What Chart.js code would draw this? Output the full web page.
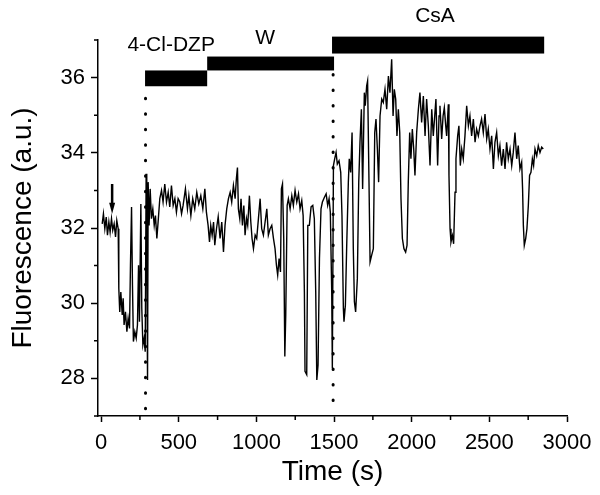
<!DOCTYPE html>
<html>
<head>
<meta charset="utf-8">
<script src="https://cdn.jsdelivr.net/npm/chart.js@4.4.0/dist/chart.umd.min.js"></script>
<style>
  html, body { margin: 0; padding: 0; background: #fff; }
</style>
</head>
<body>
<canvas id="trace" width="600" height="495"></canvas>
<script>
// fluorescence trace (time in s)
const times = [
  7, 15, 24, 33, 41, 50, 58, 67, 75, 84,
  93, 101, 110, 114, 120, 127, 136, 142, 148, 157,
  166, 174, 183, 189, 196, 202, 208, 217, 226, 234,
  241, 247, 256, 262, 269, 277, 284, 290, 294, 299,
  303, 309, 316, 324, 333, 342, 350, 359, 367, 378,
  389, 399, 410, 421, 432, 442, 453, 464, 475, 485,
  496, 507, 518, 528, 543, 556, 565, 578, 590, 603,
  616, 629, 642, 655, 668, 678, 689, 698, 706, 715,
  724, 732, 743, 754, 766, 777, 788, 798, 809, 820,
  831, 841, 852, 863, 871, 878, 884, 893, 901, 910,
  919, 927, 936, 944, 955, 964, 972, 981, 992, 1002,
  1013, 1024, 1034, 1045, 1056, 1067, 1077, 1088, 1099, 1110,
  1120, 1129, 1137, 1146, 1155, 1161, 1168, 1176, 1183, 1189,
  1198, 1206, 1217, 1228, 1238, 1249, 1260, 1271, 1281, 1292,
  1301, 1309, 1313, 1324, 1331, 1341, 1352, 1363, 1373, 1382,
  1389, 1397, 1406, 1416, 1425, 1438, 1449, 1459, 1468, 1476,
  1485, 1489, 1496, 1504, 1513, 1521, 1532, 1543, 1551, 1560,
  1564, 1573, 1581, 1592, 1598, 1607, 1616, 1624, 1631, 1639,
  1650, 1659, 1667, 1676, 1684, 1695, 1701, 1710, 1716, 1725,
  1732, 1742, 1753, 1762, 1770, 1779, 1787, 1796, 1807, 1817,
  1828, 1839, 1850, 1860, 1871, 1880, 1888, 1897, 1905, 1914,
  1923, 1931, 1940, 1950, 1961, 1970, 1978, 1987, 1995, 2004,
  2013, 2021, 2032, 2043, 2053, 2064, 2075, 2086, 2096, 2107,
  2118, 2129, 2139, 2156, 2167, 2176, 2182, 2193, 2202, 2210,
  2219, 2225, 2236, 2240, 2247, 2253, 2262, 2270, 2279, 2285,
  2296, 2304, 2313, 2322, 2332, 2343, 2354, 2365, 2375, 2386,
  2397, 2408, 2418, 2429, 2440, 2450, 2461, 2472, 2483, 2493,
  2504, 2515, 2526, 2536, 2547, 2558, 2568, 2579, 2590, 2601,
  2611, 2622, 2633, 2644, 2654, 2665, 2676, 2686, 2697, 2708,
  2714, 2719, 2725, 2734, 2742, 2751, 2759, 2768, 2777, 2785,
  2794, 2805, 2815, 2826, 2837, 2847
];
const fluorescence = [
  32.11, 32.38, 31.98, 32.29, 31.81, 32.16, 31.89, 32.25, 31.94, 32.11,
  31.76, 32.20, 31.98, 30.39, 29.77, 30.30, 29.69, 30.13, 29.42, 29.77,
  29.24, 29.60, 29.33, 31.01, 32.56, 30.48, 28.98, 29.24, 29.07, 29.42,
  31.01, 29.51, 32.64, 29.86, 28.89, 29.07, 28.71, 33.44, 31.63, 27.96,
  33.22, 32.07, 33.04, 32.25, 32.51, 32.07, 32.33, 31.72, 32.16, 32.78,
  33.00, 32.69, 33.17, 32.69, 32.95, 32.56, 33.13, 32.60, 32.78, 32.42,
  32.78, 32.69, 32.38, 32.60, 33.04, 32.51, 32.86, 32.33, 32.78, 32.51,
  32.95, 32.64, 32.86, 32.51, 33.04, 32.42, 32.07, 31.63, 32.07, 31.81,
  32.16, 31.54, 31.98, 32.30, 31.72, 32.16, 31.36, 32.07, 32.51, 32.78,
  32.95, 32.69, 33.13, 32.78, 33.31, 33.61, 32.51, 32.25, 32.78, 32.07,
  32.60, 31.81, 32.25, 32.07, 32.86, 32.16, 31.72, 31.45, 31.81, 31.72,
  32.25, 32.78, 31.98, 31.81, 32.16, 32.51, 31.81, 31.98, 32.07, 31.72,
  31.45, 31.01, 30.75, 31.19, 30.83, 33.04, 33.17, 31.72, 28.58, 29.69,
  32.60, 32.78, 32.51, 32.86, 32.60, 33.00, 32.69, 32.91, 32.51, 32.73,
  32.33, 30.30, 28.19, 28.10, 32.07, 32.07, 32.56, 32.60, 32.25, 30.30,
  27.96, 28.36, 31.19, 32.51, 32.69, 32.82, 32.91, 32.60, 32.78, 32.42,
  30.30, 28.27, 33.66, 33.84, 34.01, 33.70, 33.79, 33.48, 32.34, 29.86,
  29.51, 29.95, 31.45, 33.22, 33.84, 33.48, 34.54, 31.45, 30.04, 29.77,
  30.66, 33.22, 34.28, 35.16, 33.04, 35.60, 35.25, 35.78, 35.91, 33.22,
  31.10, 31.27, 31.45, 34.54, 34.90, 34.10, 33.22, 34.98, 35.43, 35.34,
  35.69, 35.16, 36.04, 35.60, 36.49, 34.98, 35.69, 35.43, 34.45, 35.16,
  34.54, 32.78, 31.72, 31.45, 31.36, 31.54, 33.22, 34.54, 33.84, 34.63,
  34.10, 33.40, 34.54, 35.16, 35.60, 34.81, 35.51, 34.45, 35.43, 34.72,
  33.66, 35.16, 34.45, 35.43, 33.66, 34.98, 35.25, 34.37, 34.98, 35.20,
  34.72, 34.45, 35.29, 33.40, 31.98, 31.63, 31.80, 31.58, 32.95, 33.84,
  34.45, 34.72, 33.66, 34.10, 33.84, 34.45, 35.25, 34.72, 34.98, 34.45,
  34.90, 34.28, 34.63, 34.45, 34.72, 34.90, 34.54, 35.03, 34.37, 34.63,
  34.10, 34.45, 33.57, 34.28, 34.54, 33.92, 34.19, 33.66, 34.10, 33.57,
  34.28, 33.84, 34.10, 33.66, 34.01, 34.54, 33.84, 34.19, 33.57, 33.75,
  33.04, 32.07, 31.54, 31.72, 31.98, 32.60, 33.40, 33.48, 33.84, 33.66,
  34.10, 33.92, 34.19, 34.01, 34.15, 34.10
];

// axis ticks
const xMajorTicks = [0, 500, 1000, 1500, 2000, 2500, 3000];
const xMinorTicks = [250, 750, 1250, 1750, 2250, 2750];
const yMajorTicks = [28, 30, 32, 34, 36];
const yMinorTicks = [27, 29, 31, 33, 35, 37];

// treatment bars (start/end time, bar bottom/top in a.u.) and their labels
const treatments = ['4-Cl-DZP', 'W', 'CsA'];
const barStart = [283, 683, 1487];
const barEnd = [683, 1500, 2853];
const barLow = [35.77, 36.19, 36.64];
const barHigh = [36.19, 36.56, 37.09];
const labelTime = [451, 1056, 2150];
const labelLevel = [36.86, 37.05, 37.64];

// dotted markers and the arrow
const markerTime = [286, 1494];
const markerTop = [35.45, 36.08];
const markerBottom = [27.13, 27.2];
const arrowTime = 71;
const arrowTop = 33.17;
const arrowTip = 32.38;

const FONT = '"Liberation Sans", Arial, sans-serif';

const extras = {
  id: 'extras',
  afterDatasetsDraw(chart) {
    const { ctx, scales: { x, y } } = chart;
    ctx.save();
    ctx.strokeStyle = '#000';
    ctx.fillStyle = '#000';

    // minor ticks
    ctx.lineWidth = 1.5;
    ctx.beginPath();
    xMinorTicks.forEach(v => {
      const px = x.getPixelForValue(v);
      ctx.moveTo(px, y.bottom);
      ctx.lineTo(px, y.bottom + 4);
    });
    yMinorTicks.forEach(v => {
      const py = y.getPixelForValue(v);
      ctx.moveTo(x.left, py);
      ctx.lineTo(x.left - 4, py);
    });
    ctx.stroke();

    // bars + labels
    ctx.font = '21px ' + FONT;
    ctx.textAlign = 'center';
    ctx.textBaseline = 'middle';
    treatments.forEach((name, i) => {
      const x0 = x.getPixelForValue(barStart[i]);
      const x1 = x.getPixelForValue(barEnd[i]);
      const y0 = y.getPixelForValue(barHigh[i]);
      const y1 = y.getPixelForValue(barLow[i]);
      ctx.fillRect(x0, y0, x1 - x0, y1 - y0);
      ctx.fillText(name, x.getPixelForValue(labelTime[i]), y.getPixelForValue(labelLevel[i]));
    });

    // dotted lines
    ctx.lineWidth = 3;
    ctx.lineCap = 'round';
    ctx.setLineDash([0.5, 15]);
    ctx.beginPath();
    markerTime.forEach((t, i) => {
      const px = x.getPixelForValue(t);
      ctx.moveTo(px, y.getPixelForValue(markerTop[i]));
      ctx.lineTo(px, y.getPixelForValue(markerBottom[i]));
    });
    ctx.stroke();
    ctx.setLineDash([]);

    // arrow
    const ax = x.getPixelForValue(arrowTime);
    const aTop = y.getPixelForValue(arrowTop);
    const aTip = y.getPixelForValue(arrowTip);
    ctx.lineWidth = 2.5;
    ctx.lineCap = 'butt';
    ctx.beginPath();
    ctx.moveTo(ax, aTop);
    ctx.lineTo(ax, aTip - 8);
    ctx.stroke();
    ctx.beginPath();
    ctx.moveTo(ax - 3, aTip - 11);
    ctx.lineTo(ax + 3, aTip - 11);
    ctx.lineTo(ax, aTip);
    ctx.closePath();
    ctx.fill();

    ctx.restore();
  }
};

new Chart(document.getElementById('trace'), {
  type: 'line',
  data: {
    datasets: [{
      data: times.map((t, i) => ({ x: t, y: fluorescence[i] })),
      borderColor: '#000',
      borderWidth: 1.4,
      pointRadius: 0,
      tension: 0,
      fill: false
    }]
  },
  options: {
    responsive: false,
    animation: false,
    layout: { padding: { top: 40, right: 33, left: 0, bottom: 0 } },
    plugins: { legend: { display: false }, tooltip: { enabled: false } },
    scales: {
      x: {
        type: 'linear',
        min: -20,
        max: 3000,
        afterFit: s => { s.height = 79; },
        afterBuildTicks: s => { s.ticks = xMajorTicks.map(v => ({ value: v })); },
        border: { display: true, color: '#000', width: 1.5 },
        grid: { drawOnChartArea: false, tickLength: 6, tickColor: '#000', tickWidth: 1.5 },
        ticks: {
          color: '#000',
          padding: 8,
          maxRotation: 0,
          font: { family: FONT, size: 22 },
          callback: v => String(v)
        },
        title: {
          display: true,
          text: 'Time (s)',
          color: '#000',
          font: { family: FONT, size: 28 },
          padding: { top: 0, bottom: 6 }
        }
      },
      y: {
        min: 27,
        max: 37,
        afterFit: s => { s.width = 98; },
        afterBuildTicks: s => { s.ticks = yMajorTicks.map(v => ({ value: v })); },
        border: { display: true, color: '#000', width: 1.5 },
        grid: { drawOnChartArea: false, tickLength: 7, tickColor: '#000', tickWidth: 1.5 },
        ticks: { color: '#000', padding: 6, font: { family: FONT, size: 22 }, callback: v => String(v) },
        title: {
          display: true,
          text: 'Fluorescence (a.u.)',
          color: '#000',
          font: { family: FONT, size: 28 },
          padding: { top: 6, bottom: 0 }
        }
      }
    }
  },
  plugins: [extras]
});
</script>
</body>
</html>
